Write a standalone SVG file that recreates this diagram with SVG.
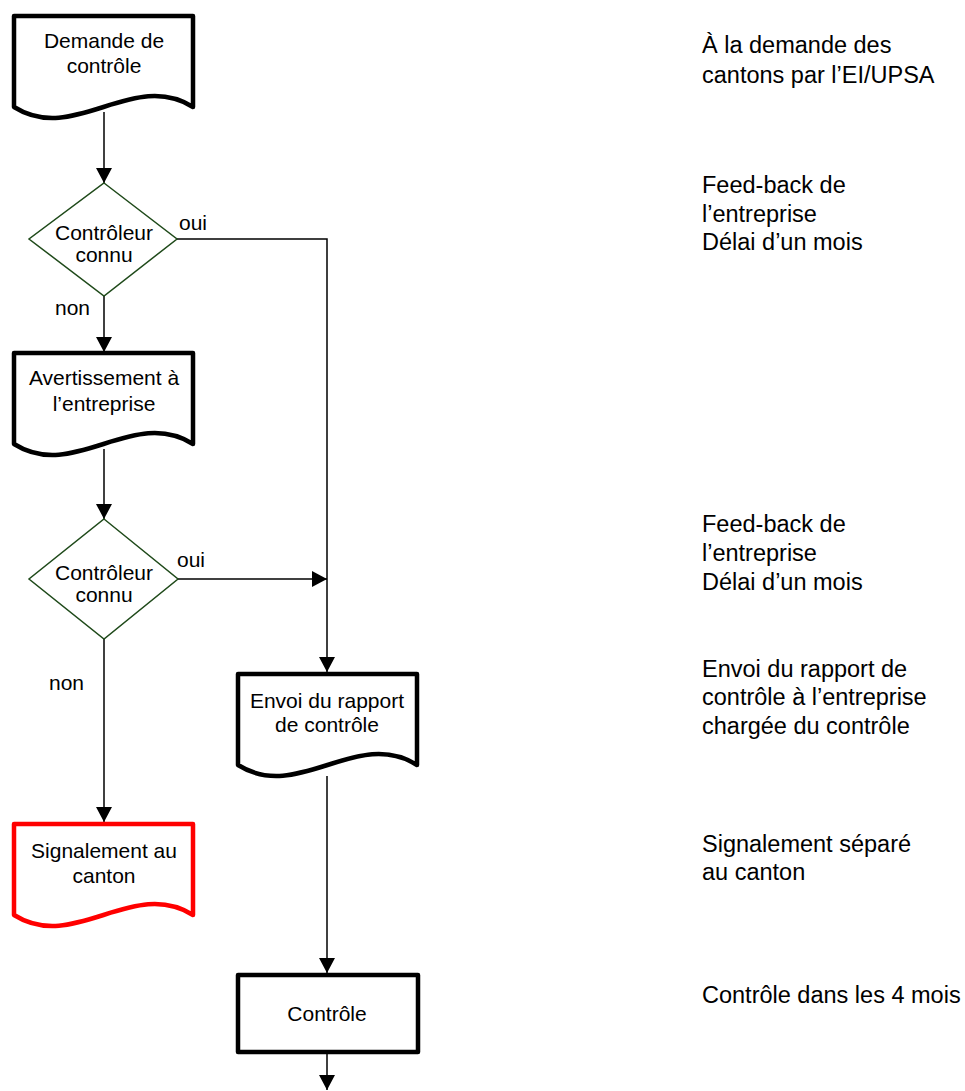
<svg xmlns="http://www.w3.org/2000/svg" width="965" height="1091" viewBox="0 0 965 1091">
<style>
  text { font-family: "Liberation Sans", Arial, sans-serif; fill: #000; }
  .lbl { font-size: 21px; text-anchor: middle; }
  .edge-lbl { font-size: 21px; }
  .note { font-size: 23.5px; }
  .doc { fill: #fff; stroke: #000; stroke-width: 4.5; stroke-linejoin: round; }
  .doc-red { fill: #fff; stroke: #ff0000; stroke-width: 4.5; stroke-linejoin: round; }
  .proc { fill: #fff; stroke: #000; stroke-width: 4.5; stroke-linejoin: round; }
  .dec { fill: #fff; stroke: #1f4a1a; stroke-width: 1.5; }
  .conn { fill: none; stroke: #000; stroke-width: 1.5; }
</style>
<defs>
  <path id="docshape" d="M0,0 H179 V91 C119,53 60,129 0,91 Z"/>
  <marker id="arrow" markerUnits="userSpaceOnUse" markerWidth="16" markerHeight="16" refX="15" refY="8" orient="auto">
    <path d="M0,0 L15,8 L0,16 Z" fill="#000"/>
  </marker>
</defs>

<g id="connectors">
  <path class="conn" d="M104,112 V183" marker-end="url(#arrow)"/>
  <path class="conn" d="M104,296 V352" marker-end="url(#arrow)"/>
  <path class="conn" d="M177,239 H327 V672" marker-end="url(#arrow)"/>
  <path class="conn" d="M104,449 V519" marker-end="url(#arrow)"/>
  <path class="conn" d="M178,579 H327" marker-end="url(#arrow)"/>
  <path class="conn" d="M104,639 V822" marker-end="url(#arrow)"/>
  <path class="conn" d="M327,776 V973" marker-end="url(#arrow)"/>
  <path class="conn" d="M327,1054 V1090" marker-end="url(#arrow)"/>
  <text class="edge-lbl" x="179" y="230">oui</text>
  <text class="edge-lbl" x="177" y="567">oui</text>
  <text class="edge-lbl" x="55" y="315">non</text>
  <text class="edge-lbl" x="49" y="690">non</text>
</g>

<g id="demande">
  <use href="#docshape" class="doc" transform="translate(14,16)"/>
  <text class="lbl" x="104" y="48">Demande de</text>
  <text class="lbl" x="104" y="73">contrôle</text>
</g>

<g id="decision1">
  <path class="dec" d="M104,183 L177,239 L104,296 L29,239 Z"/>
  <text class="lbl" x="104" y="239.5">Contrôleur</text>
  <text class="lbl" x="104" y="261.5">connu</text>
</g>

<g id="avertissement">
  <use href="#docshape" class="doc" transform="translate(14,353)"/>
  <text class="lbl" x="104" y="385">Avertissement à</text>
  <text class="lbl" x="104" y="411">l’entreprise</text>
</g>

<g id="decision2">
  <path class="dec" d="M104,519 L178,579 L104,639 L29,579 Z"/>
  <text class="lbl" x="104" y="579.5">Contrôleur</text>
  <text class="lbl" x="104" y="601.5">connu</text>
</g>

<g id="envoi">
  <use href="#docshape" class="doc" transform="translate(238,674)"/>
  <text class="lbl" x="327" y="708">Envoi du rapport</text>
  <text class="lbl" x="327" y="732">de contrôle</text>
</g>

<g id="signalement">
  <use href="#docshape" class="doc-red" transform="translate(14,824)"/>
  <text class="lbl" x="104" y="858">Signalement au</text>
  <text class="lbl" x="104" y="883">canton</text>
</g>

<g id="controle">
  <rect class="proc" x="238" y="975" width="180" height="77"/>
  <text class="lbl" x="327" y="1021">Contrôle</text>
</g>

<g id="notes">
  <text class="note" x="702" y="53">À la demande des</text>
  <text class="note" x="702" y="82.5">cantons par l’EI/UPSA</text>
  <text class="note" x="702" y="192.5">Feed-back de</text>
  <text class="note" x="702" y="221.5">l’entreprise</text>
  <text class="note" x="702" y="250">Délai d’un mois</text>
  <text class="note" x="702" y="532">Feed-back de</text>
  <text class="note" x="702" y="561">l’entreprise</text>
  <text class="note" x="702" y="590">Délai d’un mois</text>
  <text class="note" x="702" y="676.5">Envoi du rapport de</text>
  <text class="note" x="702" y="705">contrôle à l’entreprise</text>
  <text class="note" x="702" y="733.5">chargée du contrôle</text>
  <text class="note" x="702" y="851.5">Signalement séparé</text>
  <text class="note" x="702" y="880">au canton</text>
  <text class="note" x="702" y="1002.5">Contrôle dans les 4 mois</text>
</g>
</svg>
